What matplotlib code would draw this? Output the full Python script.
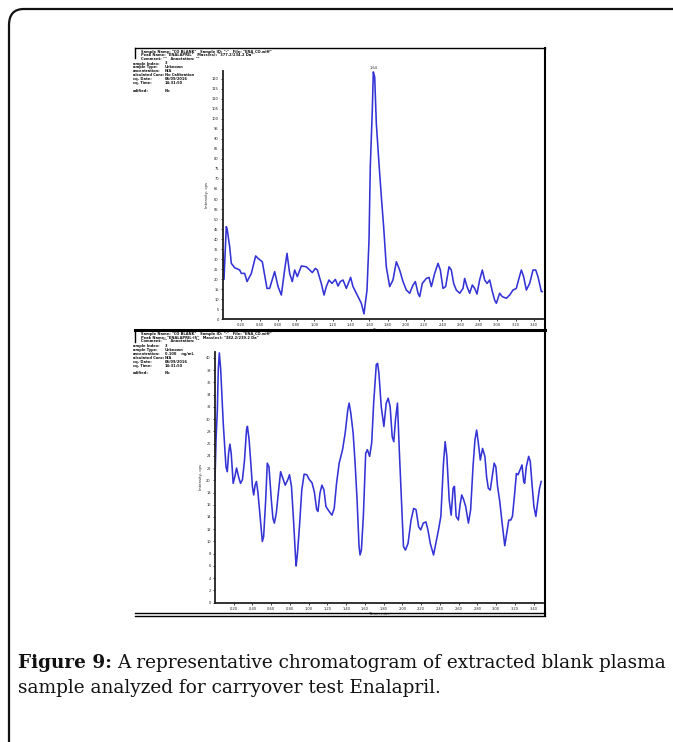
import numpy as np
import matplotlib
matplotlib.use("Agg")
import matplotlib.pyplot as plt
from matplotlib.patches import FancyBboxPatch
from matplotlib.lines import Line2D

# upper trace: carryover blank, Enalapril transition
time_top = [0.000, 0.011, 0.036, 0.044, 0.073, 0.091, 0.128, 0.182, 0.201, 0.237, 0.263, 0.310,
            0.357, 0.383, 0.430, 0.481, 0.510, 0.565, 0.602, 0.638, 0.674, 0.700, 0.729, 0.758,
            0.784, 0.813, 0.857, 0.911, 0.948, 0.977, 1.010, 1.032, 1.075, 1.105, 1.130, 1.159,
            1.192, 1.229, 1.258, 1.283, 1.313, 1.349, 1.396, 1.422, 1.477, 1.513, 1.542, 1.575,
            1.597, 1.611, 1.633, 1.644, 1.659, 1.677, 1.706, 1.732, 1.757, 1.786, 1.823, 1.859,
            1.896, 1.932, 1.969, 2.005, 2.042, 2.078, 2.104, 2.133, 2.151, 2.180, 2.224, 2.253,
            2.279, 2.315, 2.352, 2.377, 2.406, 2.435, 2.472, 2.497, 2.523, 2.552, 2.589, 2.625,
            2.643, 2.669, 2.698, 2.727, 2.753, 2.778, 2.807, 2.836, 2.862, 2.888, 2.917, 2.946,
            2.971, 2.990, 3.026, 3.055, 3.099, 3.135, 3.172, 3.208, 3.237, 3.263, 3.288, 3.318,
            3.354, 3.391, 3.420, 3.445, 3.482, 3.500]
intensity_top = [33.0, 19.9, 46.2, 45.3, 36.2, 27.9, 25.7, 24.6, 22.9, 22.9, 18.8, 22.9,
                 31.6, 30.4, 28.7, 15.4, 15.4, 23.8, 16.3, 12.1, 24.6, 32.9, 22.9, 18.8,
                 24.6, 21.3, 26.6, 26.2, 24.6, 23.3, 25.4, 24.6, 17.9, 12.1, 16.3, 19.6,
                 17.9, 19.9, 16.6, 18.8, 19.6, 15.4, 20.9, 16.3, 11.3, 8.0, 2.7, 14.6,
                 39.5, 76.1, 104.3, 123.4, 120.9, 97.7, 77.7, 61.1, 46.2, 26.2, 16.3, 19.6,
                 28.7, 24.6, 18.8, 14.6, 13.0, 17.1, 18.8, 13.0, 11.3, 17.9, 20.4, 20.9,
                 16.3, 22.9, 27.9, 24.6, 15.4, 16.3, 26.2, 24.6, 17.9, 14.6, 13.0, 15.4,
                 20.4, 16.3, 13.0, 17.1, 15.4, 12.6, 19.6, 24.6, 19.6, 17.9, 19.6, 13.8,
                 9.6, 8.0, 13.0, 11.3, 10.5, 12.1, 14.6, 15.4, 20.4, 24.6, 21.3, 14.6,
                 17.9, 24.6, 24.6, 21.3, 13.8, 13.8]

# lower trace
time_bottom = [0.000, 0.011, 0.025, 0.035, 0.046, 0.060, 0.074, 0.088, 0.106, 0.117, 0.131, 0.145,
               0.159, 0.173, 0.194, 0.212, 0.230, 0.251, 0.272, 0.293, 0.315, 0.336, 0.346, 0.364,
               0.385, 0.399, 0.413, 0.428, 0.442, 0.459, 0.484, 0.505, 0.519, 0.541, 0.558, 0.576,
               0.601, 0.618, 0.633, 0.654, 0.679, 0.700, 0.724, 0.749, 0.777, 0.795, 0.816, 0.838,
               0.859, 0.866, 0.880, 0.901, 0.926, 0.951, 0.979, 1.007, 1.035, 1.060, 1.085, 1.099,
               1.120, 1.141, 1.163, 1.184, 1.219, 1.248, 1.272, 1.297, 1.325, 1.361, 1.389, 1.417,
               1.431, 1.449, 1.474, 1.495, 1.516, 1.537, 1.548, 1.562, 1.583, 1.608, 1.626, 1.650,
               1.672, 1.693, 1.721, 1.735, 1.749, 1.774, 1.802, 1.827, 1.848, 1.869, 1.891, 1.908,
               1.926, 1.947, 1.968, 1.990, 2.011, 2.032, 2.060, 2.092, 2.120, 2.145, 2.173, 2.195,
               2.223, 2.251, 2.272, 2.297, 2.332, 2.357, 2.385, 2.410, 2.438, 2.456, 2.474, 2.499,
               2.520, 2.541, 2.555, 2.573, 2.597, 2.615, 2.633, 2.654, 2.675, 2.704, 2.728, 2.753,
               2.774, 2.792, 2.810, 2.831, 2.855, 2.880, 2.898, 2.916, 2.937, 2.958, 2.979, 2.997,
               3.015, 3.039, 3.064, 3.092, 3.113, 3.135, 3.156, 3.174, 3.198, 3.216, 3.234, 3.255,
               3.276, 3.294, 3.304, 3.322, 3.347, 3.364, 3.382, 3.403, 3.424, 3.446, 3.463, 3.481]
intensity_bottom = [20.1, 26.6, 31.5, 38.0, 40.8, 38.3, 33.7, 29.3, 25.0, 22.2, 21.4, 24.4,
                    25.9, 24.4, 19.5, 20.6, 22.0, 20.6, 19.5, 20.1, 23.3, 28.2, 28.8, 26.6,
                    22.2, 19.0, 17.6, 19.2, 19.8, 17.9, 13.5, 10.0, 10.8, 16.8, 22.8, 22.2,
                    16.8, 13.8, 13.0, 14.6, 18.4, 21.4, 20.3, 19.2, 20.1, 20.9, 19.0, 13.5,
                    7.5, 6.0, 8.1, 12.4, 18.4, 21.0, 20.9, 20.1, 19.6, 18.1, 15.2, 14.9,
                    17.9, 19.2, 18.4, 15.7, 14.9, 14.3, 15.4, 19.5, 22.8, 25.0, 27.7, 31.5,
                    32.6, 31.0, 27.7, 22.8, 16.8, 9.2, 7.8, 8.6, 14.1, 24.4, 25.0, 23.9,
                    26.1, 32.6, 38.9, 39.1, 37.5, 32.0, 28.8, 32.6, 33.4, 32.0, 27.1, 26.3,
                    29.9, 32.6, 24.4, 16.8, 9.2, 8.6, 9.7, 13.5, 15.4, 15.2, 12.4, 11.9,
                    13.0, 13.2, 11.9, 9.7, 7.8, 9.7, 11.9, 14.1, 22.8, 26.3, 23.9, 16.8,
                    14.3, 18.7, 19.0, 14.1, 13.5, 16.0, 17.6, 16.8, 15.7, 13.0, 15.2, 22.2,
                    26.6, 28.2, 26.1, 23.3, 25.2, 23.9, 20.6, 18.7, 18.4, 20.6, 22.8, 22.2,
                    19.0, 16.5, 13.0, 9.3, 11.3, 13.5, 13.5, 14.1, 17.9, 21.1, 20.9, 21.7,
                    22.5, 19.8, 19.5, 22.2, 23.9, 23.1, 19.5, 15.7, 14.1, 16.8, 18.7, 19.8]

time_ticks = [0.20, 0.40, 0.60, 0.80, 1.00, 1.20, 1.40, 1.60, 1.80, 2.00, 2.20, 2.40,
              2.60, 2.80, 3.00, 3.20, 3.40]
peak_label = "1.64"

header_top = ['Sample Name: "CO BLANK"   Sample ID: "-"   File: "ENA_CO.wiff"',
              'Peak Name: "ENALAPRIL"   Mass(es): "377.2/234.2 Da"',
              'Comment: ""   Annotation: ""']
header_bottom = ['Sample Name: "CO BLANK"   Sample ID: "-"   File: "ENA_CO.wiff"',
                 'Peak Name: "ENALAPRIL-IS"   Mass(es): "382.2/239.2 Da"',
                 'Comment: ""   Annotation: ""']
info_keys = ["ample Index:", "ample Type:", "oncentration:", "alculated Conc:", "cq. Date:",
             "cq. Time:", "", "odified:"]
info_top = ["3", "Unknown", "N/A", "No Calibration", "06/09/2016", "14:31:50", "", "No"]
info_bottom = ["3", "Unknown", "0.100    ng/mL", "N/A", "06/09/2016", "14:31:50", "", "No"]

W, H = 673, 742
LINE_COLOR = "#3333d6"


def fx(px):
    return px / W


def fy(py):
    return 1 - py / H


def add_line(fig, x0, y0, x1, y1, lw=1.0, color="k"):
    fig.add_artist(Line2D([fx(x0), fx(x1)], [fy(y0), fy(y1)], lw=lw, color=color))


def draw_header(fig, x, y, lines, keys, values):
    for i, line in enumerate(lines):
        fig.text(fx(x + 6), fy(y + 2 + 3.6 * i), line, fontsize=2.6, va="top", color="#111111",
                 fontweight="bold")
    for i, (k, v) in enumerate(zip(keys, values)):
        fig.text(fx(x - 2), fy(y + 14 + 3.9 * i), k, fontsize=2.6, va="top", color="#111111",
                 fontweight="bold")
        fig.text(fx(x + 30), fy(y + 14 + 3.9 * i), v, fontsize=2.6, va="top", color="#111111",
                 fontweight="bold")


def style_axis(ax, ymax, ystep):
    for side in ("top", "right"):
        ax.spines[side].set_visible(False)
    for side in ("left", "bottom"):
        ax.spines[side].set_linewidth(1.3)
        ax.spines[side].set_color("#222222")
    ax.set_xlim(0, 3.5)
    ax.set_ylim(0, ymax)
    ax.set_xticks(time_ticks)
    ax.set_xticklabels([f"{t:.2f}" for t in time_ticks])
    yt = np.arange(0, ymax, ystep)
    ax.set_yticks(yt)
    ax.set_yticklabels([f"{v:g}" for v in yt])
    ax.tick_params(labelsize=2.6, length=1.5, width=0.6, pad=1.5, colors="#222222")
    ax.set_xlabel("Time, min", fontsize=2.8, labelpad=0.5, color="#222222")
    ax.set_ylabel("Intensity, cps", fontsize=2.8, labelpad=2, color="#222222")
    ax.patch.set_alpha(0)


def plot_figure():
    fig = plt.figure(figsize=(W / 100, H / 100), dpi=100)

    # page box around figure and caption
    box = FancyBboxPatch((fx(9), fy(H + 40)), fx(W + 40), (H + 40 - 9) / H,
                         boxstyle="round,pad=0,rounding_size=0.022", transform=fig.transFigure,
                         fill=False, lw=1.6, edgecolor="#111111")
    fig.add_artist(box)

    # chromatogram frame lines
    add_line(fig, 135, 47.5, 545, 47.5, lw=1.0)
    add_line(fig, 135, 47.5, 135, 58, lw=1.0)
    add_line(fig, 545, 47.5, 545, 615, lw=1.5)
    add_line(fig, 135, 329.5, 545, 329.5, lw=2.2)
    add_line(fig, 135, 329.5, 135, 342, lw=1.0)
    add_line(fig, 135, 612.5, 545, 612.5, lw=1.0)
    add_line(fig, 135, 615.5, 545, 615.5, lw=1.0)

    draw_header(fig, 135, 47.5, header_top, info_keys, info_top)
    draw_header(fig, 135, 330, header_bottom, info_keys, info_bottom)

    ax_top = fig.add_axes([fx(223), fy(319.3), fx(543 - 223), (319.3 - 70.7) / H])
    ax_top.plot(time_top, intensity_top, color=LINE_COLOR, lw=1.15)
    style_axis(ax_top, 124, 5)
    ipk = int(np.argmax(intensity_top))
    ax_top.text(time_top[ipk], intensity_top[ipk] + 1.0, peak_label, fontsize=2.6,
                ha="center", va="bottom", color="#222222", clip_on=False)

    ax_bot = fig.add_axes([fx(215), fy(602.7), fx(543 - 215), (602.7 - 351.7) / H])
    ax_bot.plot(time_bottom, intensity_bottom, color=LINE_COLOR, lw=1.15)
    style_axis(ax_bot, 41.0, 2)

    # caption: bold label followed by regular text
    cap_font = "DejaVu Serif"
    cap_size = 13.3
    t1 = fig.text(fx(18), fy(668), "Figure 9:", fontsize=cap_size, fontweight="bold",
                  family=cap_font, va="baseline", color="#111111")
    fig.canvas.draw()
    bb = t1.get_window_extent()
    fig.text(bb.x1 / W + fx(5), fy(668), "A representative chromatogram of extracted blank plasma",
             fontsize=cap_size, family=cap_font, va="baseline", color="#111111")
    fig.text(fx(18), fy(693), "sample analyzed for carryover test Enalapril.",
             fontsize=cap_size, family=cap_font, va="baseline", color="#111111")

    fig.savefig("out.png", dpi=100)
    plt.close(fig)


if __name__ == "__main__":
    plot_figure()
